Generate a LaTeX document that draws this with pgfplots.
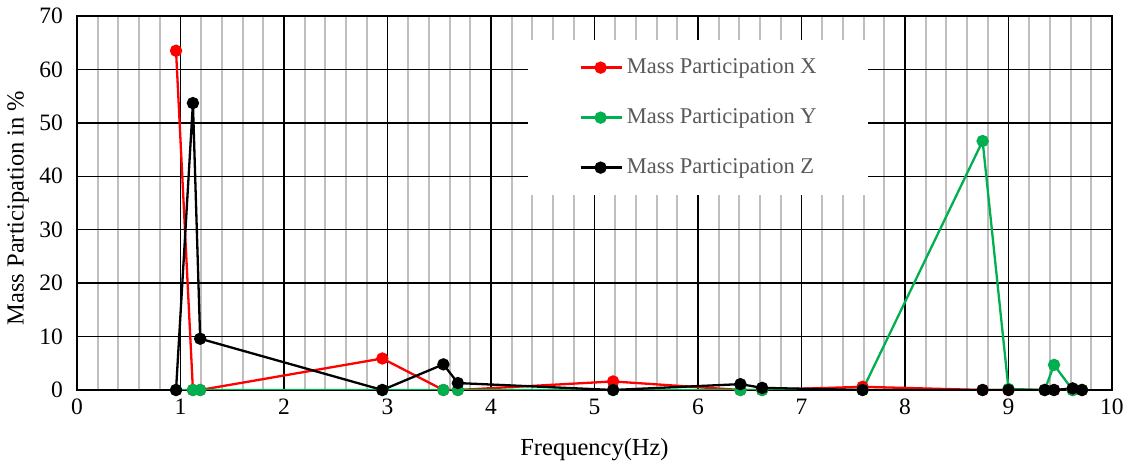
\documentclass[border=0pt]{standalone}
\usepackage{pgfplots}
\pgfplotsset{compat=1.18}
\usepackage{fontspec}
\setmainfont{Liberation Serif}
\definecolor{mpred}{RGB}{255,0,0}
\definecolor{mpgreen}{RGB}{0,176,80}
\definecolor{gridgray}{RGB}{191,191,191}
\definecolor{legtext}{RGB}{89,89,89}
\newcommand{\tickfont}{\fontsize{23.5}{27}\selectfont}
\newcommand{\labelfont}{\fontsize{24.5}{28}\selectfont}
\newcommand{\legfont}{\fontsize{22.5}{26}\selectfont}
\begin{document}
\begin{tikzpicture}
% page = 1128 x 463 (1pt per pixel of the reference)
\path[use as bounding box] (-77pt,-73pt) rectangle (1051pt,390pt);
\begin{axis}[
	scale only axis,
	width=1035pt, height=374pt,
	xmin=0, xmax=10, ymin=0, ymax=70,
	xtick={0,1,...,10}, ytick={0,10,...,70},
	minor x tick num=4,
	xmajorgrids, ymajorgrids, xminorgrids,
	major grid style={black, line width=1.3pt},
	minor grid style={gridgray, line width=2pt},
	axis line style={black, line width=1.3pt},
	major tick length=0pt, minor tick length=0pt,
	/pgf/number format/assume math mode=true,
	tick label style={font=\tickfont, black},
	xticklabel style={inner sep=0pt, yshift=-9pt},
	yticklabel style={inner sep=0pt, xshift=-14pt},
	label style={font=\labelfont},
	xlabel={Frequency(Hz)},
	ylabel={Mass Participation in \%},
	xlabel style={at={(axis description cs:0.5,0)}, anchor=center, yshift=-60pt},
	ylabel style={at={(axis description cs:0,0.5)}, anchor=center, yshift=59pt, xshift=-5pt},
	every axis plot/.append style={line width=2.3pt, mark=*, mark size=5pt},
	legend cell align=left,
	legend image code/.code={
		\draw[mark repeat=2, mark phase=2] plot coordinates {(0pt,0pt) (20pt,0pt) (41pt,0pt)};
	},
	legend style={
		at={(0.436,0.936)}, anchor=north west,
		draw=none, fill=white,
		font=\legfont, text=legtext,
		inner xsep=51pt, inner ysep=17pt,
		row sep=29pt,
		nodes={inner sep=0pt, text height=16pt, text depth=5pt},
		/tikz/every odd column/.append style={column sep=4pt},
	},
]
\addplot[mpred, mark options={fill=mpred, draw=mpred}] coordinates {
	(0.957,63.5) (1.12,0) (1.19,0) (2.95,5.9) (3.54,0) (3.68,0)
	(5.18,1.6) (6.41,0) (6.62,0) (7.59,0.6) (8.75,0) (9.00,0)
	(9.35,0) (9.44,0) (9.62,0) (9.71,0)};
\addlegendentry{Mass Participation X}
\addplot[mpgreen, mark options={fill=mpgreen, draw=mpgreen}] coordinates {
	(0.957,0) (1.12,0) (1.19,0) (2.95,0) (3.54,0) (3.68,0)
	(5.18,0) (6.41,0) (6.62,0) (7.59,0) (8.75,46.6) (9.00,0.2)
	(9.35,0) (9.44,4.7) (9.62,0) (9.71,0)};
\addlegendentry{Mass Participation Y}
\addplot[black, mark options={fill=black, draw=black}] coordinates {
	(0.957,0) (1.12,53.7) (1.19,9.6) (2.95,0) (3.54,4.8) (3.68,1.3)
	(5.18,0) (6.41,1.1) (6.62,0.4) (7.59,0) (8.75,0) (9.00,0)
	(9.35,0) (9.44,0) (9.62,0.3) (9.71,0)};
\addlegendentry{Mass Participation Z}
\end{axis}
\end{tikzpicture}
\end{document}
